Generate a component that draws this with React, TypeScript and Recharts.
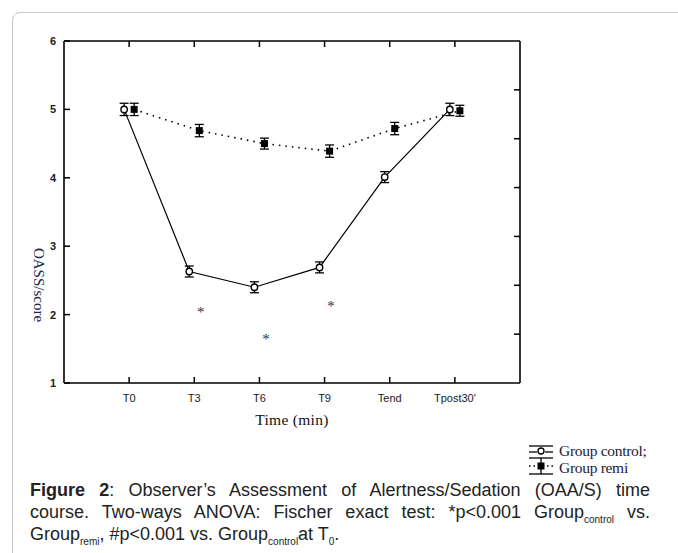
import React from 'react';
import {
  ComposedChart,
  Line,
  Scatter,
  XAxis,
  YAxis,
  ErrorBar,
} from 'recharts';

// time points on the x axis
const timeLabels = ['T0', 'T3', 'T6', 'T9', 'Tend', "Tpost30'"];

// OAA/S score means
const controlScores = [5.0, 2.63, 2.4, 2.69, 4.01, 5.0];
const remiScores = [5.0, 4.69, 4.5, 4.39, 4.72, 4.98];

// error bar half-lengths
const controlErr = [0.09, 0.08, 0.08, 0.08, 0.08, 0.09];
const remiErr = [0.09, 0.09, 0.08, 0.09, 0.09, 0.08];

// significance marks (*) under T3, T6, T9
const starTimes = [2, 3, 4];
const starScores = [2.07, 1.67, 2.15];

const yTicks = [1, 2, 3, 4, 5, 6];
const xTicks = [1, 2, 3, 4, 5, 6];
const frameTicks = [1, 2, 3, 4, 5, 6];

// the two groups are drawn a little apart around each time point
const SPREAD = 0.077;
const STAR_SHIFT = 0.1;

const controlRows = controlScores.map((v, i) => ({ x: i + 1 - SPREAD, y: v, e: controlErr[i] }));
const remiRows = remiScores.map((v, i) => ({ x: i + 1 + SPREAD, y: v, e: remiErr[i] }));
const starRows = starTimes.map((t, i) => ({ x: t + STAR_SHIFT, y: starScores[i] }));

const sans = 'Liberation Sans, Arial, sans-serif';
const serif = 'Liberation Serif, "Times New Roman", serif';
const TICK_LEN = 6;
const TICK_W = 1.5;

const OpenCircle = (props: any) => {
  const { cx, cy } = props;
  if (cx == null || cy == null) return null;
  return <circle cx={cx} cy={cy} r={3.2} fill="#fff" stroke="#000" strokeWidth={1.4} />;
};

const FilledSquare = (props: any) => {
  const { cx, cy } = props;
  if (cx == null || cy == null) return null;
  return <rect x={cx - 3.5} y={cy - 3.5} width={7} height={7} fill="#000" />;
};

const Star = (props: any) => {
  const { cx, cy } = props;
  return (
    <text x={cx} y={cy + 7} textAnchor="middle" fontFamily={serif} fontSize={15} fill="#2a3050">
      *
    </text>
  );
};

const Nothing = () => <g />;

// inward ticks, labels drawn by hand
const BottomTick = (props: any) => {
  const { x, y, payload } = props;
  return (
    <g>
      <rect x={x - TICK_W / 2} y={y - TICK_LEN} width={TICK_W} height={TICK_LEN} fill="#000" />
      <text x={x} y={y + 19} textAnchor="middle" fontFamily={sans} fontSize={11} fill="#1a1a22">
        {timeLabels[payload.value - 1]}
      </text>
    </g>
  );
};

const LeftTick = (props: any) => {
  const { x, y, payload } = props;
  return (
    <g>
      <rect x={x} y={y - TICK_W / 2} width={TICK_LEN} height={TICK_W} fill="#000" />
      <text x={x - 8} y={y + 4} textAnchor="end" fontFamily={sans} fontWeight="bold" fontSize={11} fill="#1a1a22">
        {payload.value}
      </text>
    </g>
  );
};

const TopTick = (props: any) => {
  const { x, y } = props;
  return <rect x={x - TICK_W / 2} y={y} width={TICK_W} height={TICK_LEN} fill="#000" />;
};

const RightTick = (props: any) => {
  const { x, y } = props;
  return <rect x={x - TICK_LEN} y={y - TICK_W / 2} width={TICK_LEN} height={TICK_W} fill="#000" />;
};

const axisLine = { stroke: '#000', strokeWidth: 1.6 };

const App: React.FC = () => {
  return (
    <div style={{ position: 'absolute', left: 0, top: 0, width: 678, height: 553, overflow: 'hidden', background: '#fff' }}>
      {/* rounded panel border */}
      <div
        style={{
          position: 'absolute',
          left: 12,
          top: 12,
          width: 700,
          height: 600,
          border: '1.5px solid #c9c9c9',
          borderRadius: 8,
        }}
      />
      <div style={{ position: 'absolute', left: 0, top: 0 }}>
        <ComposedChart width={678} height={553} margin={{ top: 40, right: 148, bottom: 140, left: 14 }}>
          <XAxis
            xAxisId="main"
            dataKey="x"
            type="number"
            domain={[0, 7]}
            ticks={xTicks}
            allowDataOverflow
            height={30}
            tickSize={0}
            tickMargin={0}
            tickLine={false}
            tick={<BottomTick />}
            interval={0}
            axisLine={axisLine}
          />
          <XAxis
            xAxisId="top"
            orientation="top"
            dataKey="x"
            type="number"
            domain={[0, 7]}
            ticks={xTicks}
            allowDataOverflow
            height={1}
            tickSize={0}
            tickMargin={0}
            tickLine={false}
            tick={<TopTick />}
            interval={0}
            axisLine={axisLine}
          />
          <YAxis
            yAxisId="main"
            type="number"
            domain={[1, 6]}
            ticks={yTicks}
            allowDataOverflow
            width={50}
            tickSize={0}
            tickMargin={0}
            tickLine={false}
            tick={<LeftTick />}
            interval={0}
            axisLine={axisLine}
          />
          <YAxis
            yAxisId="right"
            orientation="right"
            type="number"
            domain={[0, 7]}
            ticks={frameTicks}
            allowDataOverflow
            width={10}
            tickSize={0}
            tickMargin={0}
            tickLine={false}
            tick={<RightTick />}
            interval={0}
            axisLine={axisLine}
          />
          {/* invisible series so the top and right frame axes get their ticks */}
          <Scatter
            xAxisId="top"
            yAxisId="right"
            data={starRows}
            dataKey="y"
            shape={<Nothing />}
            isAnimationActive={false}
          />
          <Line
            xAxisId="main"
            yAxisId="main"
            data={remiRows}
            dataKey="y"
            type="linear"
            stroke="#000"
            strokeWidth={1.6}
            strokeDasharray="1.5 5"
            dot={<FilledSquare />}
            isAnimationActive={false}
          >
            <ErrorBar dataKey="e" width={4.5} stroke="#000" strokeWidth={1.3} direction="y" />
          </Line>
          <Line
            xAxisId="main"
            yAxisId="main"
            data={controlRows}
            dataKey="y"
            type="linear"
            stroke="#000"
            strokeWidth={1.2}
            dot={<OpenCircle />}
            isAnimationActive={false}
          >
            <ErrorBar dataKey="e" width={4.5} stroke="#000" strokeWidth={1.3} direction="y" />
          </Line>
          <Scatter
            xAxisId="main"
            yAxisId="main"
            data={starRows}
            dataKey="y"
            shape={<Star />}
            isAnimationActive={false}
          />
        </ComposedChart>
      </div>

      {/* axis titles and legend */}
      <svg width={678} height={553} style={{ position: 'absolute', left: 0, top: 0, pointerEvents: 'none' }}>
        <text
          x={0}
          y={0}
          transform="translate(34 285) rotate(90)"
          textAnchor="middle"
          fontFamily={serif}
          fontSize={15}
          fill="#22284a"
        >
          OASS/score
        </text>
        <text x={292} y={425} textAnchor="middle" fontFamily={serif} fontSize={15.5} fill="#111" letterSpacing={0.3}>
          Time (min)
        </text>

        <g stroke="#000" strokeWidth={1.3}>
          <line x1={529} x2={553} y1={446} y2={446} />
          <line x1={529} x2={537} y1={452} y2={452} />
          <line x1={545} x2={553} y1={452} y2={452} />
          <line x1={529} x2={553} y1={458} y2={458} />
          <line x1={541} x2={541} y1={458} y2={474} />
          <line x1={529} x2={553} y1={474} y2={474} />
          <line x1={529} x2={553} y1={466} y2={466} strokeDasharray="1.5 3" />
        </g>
        <circle cx={541} cy={451} r={3} fill="#fff" stroke="#000" strokeWidth={1.3} />
        <rect x={537.5} y={462.5} width={7} height={7} fill="#000" />
        <text x={559} y={456} fontFamily={serif} fontSize={15.5} fill="#1a1a3a" letterSpacing={-0.3}>
          Group control;
        </text>
        <text x={559} y={473} fontFamily={serif} fontSize={15.5} fill="#1a1a3a" letterSpacing={-0.3}>
          Group remi
        </text>
      </svg>

      {/* caption */}
      <div
        style={{
          position: 'absolute',
          left: 30,
          top: 479,
          width: 620,
          fontFamily: sans,
          fontSize: 18,
          lineHeight: '22px',
          color: '#222',
        }}
      >
        <div style={{ textAlign: 'justify', textAlignLast: 'justify', whiteSpace: 'nowrap' }}>
          <b>Figure 2</b>: Observer’s Assessment of Alertness/Sedation (OAA/S) time
        </div>
        <div style={{ textAlign: 'justify', textAlignLast: 'justify', whiteSpace: 'nowrap' }}>
          course. Two-ways ANOVA: Fischer exact test: *p&lt;0.001 Group
          <sub style={{ fontSize: 10, lineHeight: 0 }}>control</sub> vs.
        </div>
        <div style={{ whiteSpace: 'nowrap' }}>
          Group<sub style={{ fontSize: 10, lineHeight: 0 }}>remi</sub>, #p&lt;0.001 vs. Group
          <sub style={{ fontSize: 10, lineHeight: 0 }}>control</sub>at T
          <sub style={{ fontSize: 10, lineHeight: 0 }}>0</sub>.
        </div>
      </div>
    </div>
  );
};

export default App;
